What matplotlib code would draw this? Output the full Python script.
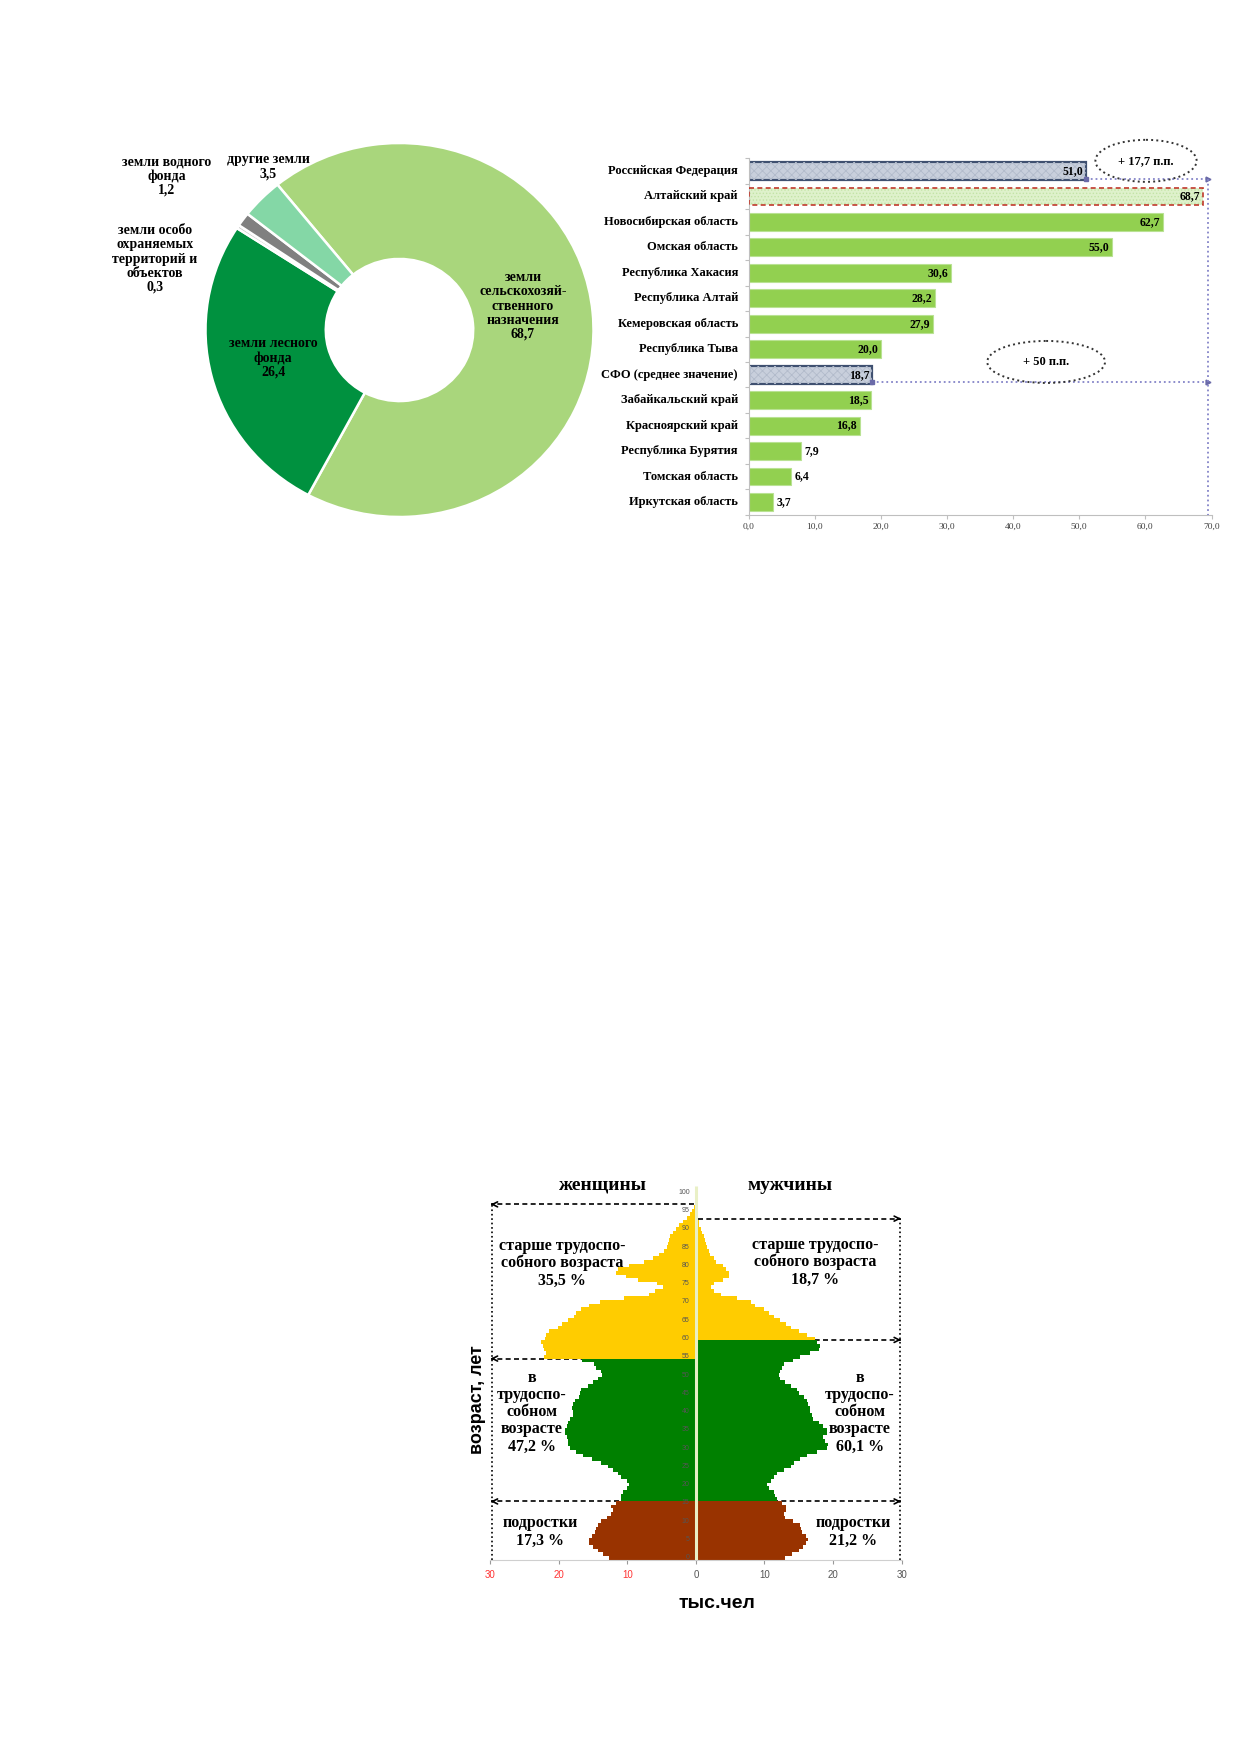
import matplotlib
matplotlib.use('Agg')
import matplotlib.pyplot as plt
from matplotlib.patches import Ellipse
import numpy as np

# ---------------- data ----------------
land_names = ['земли\nсельскохозяй-\nственного\nназначения', 'земли лесного\nфонда',
              'земли особо\nохраняемых\nтерриторий и\nобъектов', 'земли водного\nфонда', 'другие земли']
land_shares = [68.7, 26.4, 0.3, 1.2, 3.5]

regions = ['Российская Федерация', 'Алтайский край', 'Новосибирская область', 'Омская область',
           'Республика Хакасия', 'Республика Алтай', 'Кемеровская область', 'Республика Тыва',
           'СФО (среднее значение)', 'Забайкальский край', 'Красноярский край',
           'Республика Бурятия', 'Томская область', 'Иркутская область']
region_values = [51.0, 68.7, 62.7, 55.0, 30.6, 28.2, 27.9, 20.0, 18.7, 18.5, 16.8, 7.9, 6.4, 3.7]
bar_ticks = [0, 10, 20, 30, 40, 50, 60, 70]

ages = list(range(101))
female = [12.6, 13.5, 14.3, 15.0, 15.5, 15.6, 15.2, 14.7, 14.5, 14.3,
          13.8, 13.0, 12.3, 12.1, 12.3, 11.6, 10.9, 10.9, 10.6, 10.1,
          9.8, 10.1, 10.9, 11.4, 12.1, 12.8, 13.8, 15.2, 16.4, 17.4,
          18.4, 18.6, 18.6, 18.8, 19.1, 19.1, 18.8, 18.6, 18.4, 17.9,
          17.9, 18.1, 17.9, 17.6, 17.1, 16.9, 16.7, 15.7, 15.0, 14.3,
          13.7, 13.8, 14.6, 14.8, 16.6, 22.1, 21.8, 22.1, 22.3, 22.6,
          22.0, 21.8, 21.4, 20.1, 19.5, 18.7, 17.8, 17.5, 16.8, 15.5,
          13.9, 10.5, 6.8, 6.0, 4.8, 5.6, 8.5, 10.2, 11.6, 11.4,
          9.7, 7.6, 6.2, 5.3, 4.7, 4.2, 4.1, 3.9, 3.8, 3.4,
          2.9, 2.4, 1.9, 1.3, 0.9, 0.5, 0.3, 0.15, 0.1, 0.05, 0.05]
male = [13.0, 14.0, 15.0, 15.6, 16.1, 16.3, 16.0, 15.5, 15.3, 15.2,
        14.2, 13.0, 12.8, 13.2, 13.2, 12.6, 11.8, 11.6, 11.4, 10.6,
        10.4, 10.9, 11.4, 11.8, 12.8, 13.8, 14.3, 15.2, 16.2, 17.6,
        19.1, 19.3, 18.8, 18.6, 19.1, 19.1, 18.6, 17.9, 17.1, 16.9,
        16.7, 16.7, 16.4, 16.2, 15.7, 15.0, 14.7, 13.8, 13.0, 12.3,
        12.1, 12.3, 12.5, 12.8, 14.2, 15.2, 16.7, 17.9, 18.1, 17.6,
        17.4, 16.2, 15.0, 13.8, 13.1, 12.3, 11.4, 10.6, 10.0, 8.6,
        8.0, 6.0, 3.7, 2.6, 2.2, 2.6, 4.0, 4.8, 4.8, 4.4,
        3.9, 3.0, 2.6, 2.1, 1.9, 1.6, 1.5, 1.3, 1.2, 0.9,
        0.7, 0.5, 0.4, 0.3, 0.2, 0.1, 0.05, 0.03, 0.02, 0.02, 0.02]
pyr_ticks = [-30, -20, -10, 0, 10, 20, 30]
group_female = ['старше трудоспо-\nсобного возраста\n35,5 %', 'в\nтрудоспо-\nсобном\nвозрасте\n47,2 %', 'подростки\n17,3 %']
group_male = ['старше трудоспо-\nсобного возраста\n18,7 %', 'в\nтрудоспо-\nсобном\nвозрасте\n60,1 %', 'подростки\n21,2 %']

# ---------------- figure ----------------
W, H = 1239, 1752
fig = plt.figure(figsize=(W / 100, H / 100), dpi=100)
fig.patch.set_facecolor('white')
plt.rcParams['hatch.linewidth'] = 0.6
SERIF = ['Liberation Serif', 'DejaVu Serif']
SANS = ['Liberation Sans', 'DejaVu Sans']


def fx(px):
    return px / W


def fy(py):
    return 1 - py / H


def fmt(v):
    return ('%.1f' % v).replace('.', ',')


# ---------------- donut ----------------
axd = fig.add_axes([fx(205.5), fy(517), 388 / W, 374 / H])
land_colors = ['#a9d67c', '#00913f', '#cfcfcf', '#808080', '#84d7a6']
axd.pie(land_shares, startangle=129, counterclock=False, radius=1, colors=land_colors,
        wedgeprops=dict(width=0.62, edgecolor='white', linewidth=1.8))
axd.set_aspect('auto')
axd.set_xlim(-1, 1)
axd.set_ylim(-1, 1)
axd.axis('off')

donut_label_pos = [(523, 306), (273, 358), (155, 259), (167, 176), (268, 167)]
for name, val, (px, py) in zip(land_names, land_shares, donut_label_pos):
    fig.text(fx(px), fy(py), name + '\n' + fmt(val), ha='center', va='center',
             fontsize=10, fontweight='bold', family=SERIF, linespacing=1.12, color='black')

# ---------------- bar chart ----------------
axb = fig.add_axes([fx(748.5), fy(514.7), 463 / W, 356.4 / H])
for i, (r, v) in enumerate(zip(regions, region_values)):
    if r in ('Российская Федерация', 'СФО (среднее значение)'):
        axb.barh(i, v, height=0.7, color='#c8cfdc', edgecolor='#3f5070', linewidth=1.6, zorder=2)
        axb.barh(i, v, height=0.7, color='none', edgecolor='#b2bbcb', linewidth=0, hatch='xxxx',
                 zorder=2.5)
    elif r == 'Алтайский край':
        axb.barh(i, v, height=0.7, color='#def1cb', edgecolor='none', linewidth=0, zorder=2)
        axb.barh(i, v, height=0.7, color='none', edgecolor='#c3e3a6', linewidth=0, hatch='.....',
                 zorder=2.5)
        axb.barh(i, v, height=0.7, color='none', edgecolor='#c0392b', linewidth=1.2,
                 linestyle=(0, (3, 2)), zorder=2.6)
    else:
        axb.barh(i, v, height=0.7, color='#92d050', edgecolor='#b9e293', linewidth=0.8, zorder=2)
    if v >= 10:
        axb.text(v - 0.4, i, fmt(v), ha='right', va='center', fontsize=8.5, fontweight='bold',
                 family=SERIF, zorder=4)
    else:
        axb.text(v + 0.5, i, fmt(v), ha='left', va='center', fontsize=8.5, fontweight='bold',
                 family=SERIF, zorder=4)
    axb.text(-1.6, i, r, ha='right', va='center', fontsize=9, fontweight='bold', family=SERIF,
             clip_on=False)

axb.set_xlim(0, 70)
axb.set_ylim(13.5, -0.5)
axb.set_yticks(np.arange(-0.5, 13.6, 1.0))
axb.set_yticklabels([])
axb.set_xticks(bar_ticks)
axb.set_xticklabels([fmt(t) for t in bar_ticks], fontsize=6.8, family=SERIF, color='#404040')
axb.tick_params(axis='both', length=3, color='#bfbfbf', pad=3)
for s in ('top', 'right'):
    axb.spines[s].set_visible(False)
for s in ('left', 'bottom'):
    axb.spines[s].set_color('#bfbfbf')
    axb.spines[s].set_linewidth(0.8)

# dotted comparison lines
i_rf = regions.index('Российская Федерация')
i_sfo = regions.index('СФО (среднее значение)')
i_alt = regions.index('Алтайский край')
v_alt = region_values[i_alt]
xr = 69.5
lc = '#8484c8'
for idx in (i_rf, i_sfo):
    v = region_values[idx]
    axb.plot([v, xr], [idx + 0.3, idx + 0.3], linestyle=':', color=lc, lw=1.3, zorder=3)
    axb.plot([v], [idx + 0.3], marker='s', ms=3, color='#6a6aa8', zorder=3)
    axb.plot([xr], [idx + 0.3], marker='>', ms=3.5, color='#6a6aa8', zorder=3, clip_on=False)
axb.plot([xr, xr], [i_rf + 0.3, 13.5], linestyle=':', color=lc, lw=1.3, zorder=3, clip_on=False)

ell1 = Ellipse((60.1, -0.4), 15.3, 1.65, fill=False, linestyle=':', edgecolor='#333333', lw=1.4,
               clip_on=False, zorder=4)
ell2 = Ellipse((45.0, 7.5), 17.8, 1.65, fill=False, linestyle=':', edgecolor='#333333', lw=1.4,
               clip_on=False, zorder=4)
axb.add_patch(ell1)
axb.add_patch(ell2)
d1 = v_alt - region_values[i_rf]
d2 = v_alt - region_values[i_sfo]
axb.text(60.1, -0.4, '+ ' + fmt(d1) + ' п.п.', ha='center', va='center', fontsize=9,
         fontweight='bold', family=SERIF, clip_on=False)
axb.text(45.0, 7.5, '+ %d п.п.' % round(d2), ha='center', va='center', fontsize=9,
         fontweight='bold', family=SERIF)

# ---------------- pyramid ----------------
axp = fig.add_axes([fx(490), fy(1559.9), 411.7 / W, 374.9 / H])
fcol = ['#993300' if a <= 15 else ('#008000' if a <= 54 else '#ffcc00') for a in ages]
mcol = ['#993300' if a <= 15 else ('#008000' if a <= 59 else '#ffcc00') for a in ages]
axp.barh(ages, [-v for v in female], height=1.0, color=fcol, linewidth=0, zorder=2)
axp.barh(ages, male, height=1.0, color=mcol, linewidth=0, zorder=2)
axp.plot([0, 0], [-0.6, 101.8], color='#e9f0c6', lw=2.2, zorder=3, solid_capstyle='butt')
axp.set_xlim(-30, 30)
axp.set_ylim(-0.6, 102)
for a in range(0, 101, 5):
    axp.text(-0.9, a, str(a), ha='right', va='center', fontsize=5, color='#555555', family=SANS,
             zorder=4)
axp.set_yticks([])
axp.set_xticks(pyr_ticks)
axp.set_xticklabels([str(abs(t)) for t in pyr_ticks], fontsize=7, family=SANS)
for lab, t in zip(axp.get_xticklabels(), pyr_ticks):
    lab.set_color('#ff3333' if t < 0 else '#555555')
axp.tick_params(axis='x', length=3, color='#999999', pad=4)
for s in ('top', 'right', 'left'):
    axp.spines[s].set_visible(False)
axp.spines['bottom'].set_color('#cfcfcf')
axp.spines['bottom'].set_linewidth(0.8)


def dashed_arrow(y, x_from, x_tip):
    axp.plot([x_from, x_tip], [y, y], linestyle=(0, (3, 2)), color='black', lw=1.2, zorder=1,
             clip_on=False)
    d = 0.8 if x_tip > x_from else -0.8
    axp.annotate('', xy=(x_tip, y), xytext=(x_tip - d, y),
                 arrowprops=dict(arrowstyle='->', lw=1.2, color='black', mutation_scale=9),
                 annotation_clip=False, zorder=1)


dashed_arrow(96.7, -0.3, -29.9)
dashed_arrow(54.5, -0.3, -29.9)
dashed_arrow(15.4, -0.3, -29.9)
dashed_arrow(92.8, 0.3, 29.9)
dashed_arrow(59.6, 0.3, 29.9)
dashed_arrow(15.4, 0.3, 29.9)
axp.plot([-29.7, -29.7], [-0.6, 96.7], linestyle=':', color='black', lw=1.2, zorder=1, clip_on=False)
axp.plot([29.7, 29.7], [-0.6, 92.8], linestyle=':', color='black', lw=1.2, zorder=1, clip_on=False)

ann_kw = dict(ha='center', va='center', fontsize=11.5, fontweight='bold', family=SERIF,
              linespacing=1.1)
fig.text(fx(562), fy(1263), group_female[0], **ann_kw)
fig.text(fx(815), fy(1262), group_male[0], **ann_kw)
fig.text(fx(532), fy(1412), group_female[1], **ann_kw)
fig.text(fx(860), fy(1412), group_male[1], **ann_kw)
fig.text(fx(540), fy(1532), group_female[2], **ann_kw)
fig.text(fx(853), fy(1532), group_male[2], **ann_kw)

fig.text(fx(603), fy(1185), 'женщины', ha='center', va='center', fontsize=14, fontweight='bold',
         family=SERIF)
fig.text(fx(790), fy(1185), 'мужчины', ha='center', va='center', fontsize=14, fontweight='bold',
         family=SERIF)
fig.text(fx(478), fy(1400), 'возраст, лет', rotation=90, ha='center', va='center', fontsize=13,
         fontweight='bold', family=SANS)
fig.text(fx(717), fy(1603), 'тыс.чел', ha='center', va='center', fontsize=14, fontweight='bold',
         family=SANS)

fig.savefig('out.png', dpi=100, facecolor='white')
